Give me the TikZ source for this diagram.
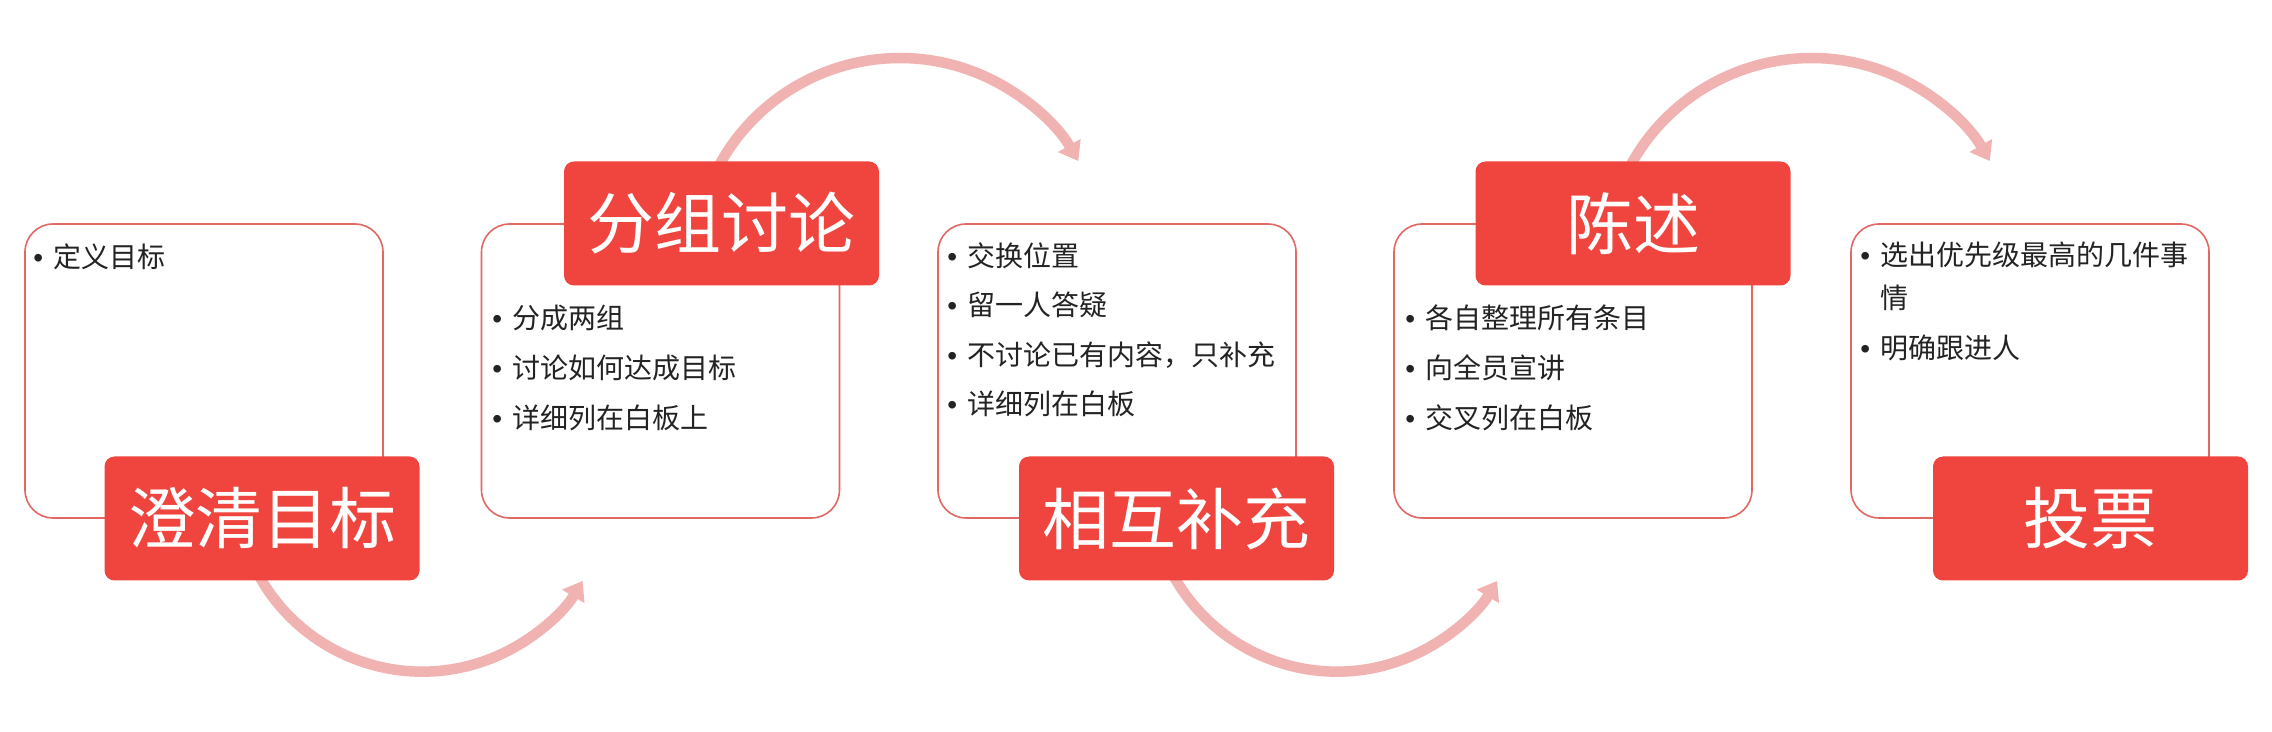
\documentclass[tikz,border=0pt]{standalone}
\usepackage{fontspec}
\newfontfamily\cjk{Noto Sans CJK SC}
\newfontfamily\latinfont{Liberation Sans}
\usetikzlibrary{arrows.meta}
\definecolor{labelred}{RGB}{239,69,62}
\definecolor{boxline}{RGB}{226,104,100}
\definecolor{arrowpink}{RGB}{241,178,178}
\definecolor{txt}{RGB}{35,35,35}
\newcommand\bul{\makebox[10pt][l]{\latinfont •}}
\pgfdeclarelayer{background}
\pgfsetlayers{background,main}
\begin{document}
\begin{tikzpicture}[x=0.5pt,y=-0.5pt,
  box/.style={draw=boxline, line width=0.8pt, fill=white, rounded corners=14pt,
    minimum width=179pt, minimum height=147pt, inner sep=0pt},
  steplabel/.style={fill=labelred, rounded corners=5pt, minimum width=157.5pt,
    minimum height=62pt, inner sep=0pt, text=white,
    font=\cjk\fontsize{33.5}{40}\selectfont},
  item/.style={anchor=base west, inner sep=0pt, text=txt,
    font=\cjk\fontsize{14}{17}\selectfont},
  flow/.style={draw=arrowpink, line width=5.25pt,
    -{Triangle[width=12.5pt,length=9pt]}}]
\useasboundingbox (0,0) rectangle (2272,732);

% content boxes
\node[box] (b1) at (204,371) {};
\node[box] (b2) at (660.5,371) {};
\node[box] (b3) at (1117,371) {};
\node[box] (b4) at (1573,371) {};
\node[box] (b5) at (2030,371) {};

% bullet items
\node[item] (t11) at (33,268) {\bul 定义目标};

\node[item] (t21) at (492,329) {\bul 分成两组};
\node[item] (t22) at (492,379) {\bul 讨论如何达成目标};
\node[item] (t23) at (492,429) {\bul 详细列在白板上};

\node[item] (t31) at (947,267) {\bul 交换位置};
\node[item] (t32) at (947,316) {\bul 留一人答疑};
\node[item] (t33) at (947,366) {\bul 不讨论已有内容，只补充};
\node[item] (t34) at (947,415) {\bul 详细列在白板};

\node[item] (t41) at (1405,329) {\bul 各自整理所有条目};
\node[item] (t42) at (1405,379) {\bul 向全员宣讲};
\node[item] (t43) at (1405,429) {\bul 交叉列在白板};

\node[item] (t51) at (1860,266) {\bul 选出优先级最高的几件事};
\node[item] (t52) at (1880,309) {情};
\node[item] (t53) at (1860,359) {\bul 明确跟进人};

% step labels
\node[steplabel] (l1) at (262,518.5) {澄清目标};
\node[steplabel] (l2) at (721.5,223.5) {分组讨论};
\node[steplabel] (l3) at (1176.5,518.5) {相互补充};
\node[steplabel] (l4) at (1633,223.5) {陈述};
\node[steplabel] (l5) at (2090.5,518.5) {投票};

% background and curved arrows
\begin{pgfonlayer}{background}
\fill[white] (0,0) rectangle (2272,732);
\draw[flow] ([xshift=-3.9pt,yshift=7.15pt]l1.south)
  arc[start angle=206, end angle=329, radius=93.5pt];
\draw[flow] ([xshift=-4.15pt,yshift=-7.95pt]l2.north)
  arc[start angle=155, end angle=30, radius=103pt];
\draw[flow] ([xshift=-3.9pt,yshift=7.15pt]l3.south)
  arc[start angle=206, end angle=329, radius=93.5pt];
\draw[flow] ([xshift=-4.15pt,yshift=-7.95pt]l4.north)
  arc[start angle=155, end angle=30, radius=103pt];
\end{pgfonlayer}
\end{tikzpicture}
\end{document}
